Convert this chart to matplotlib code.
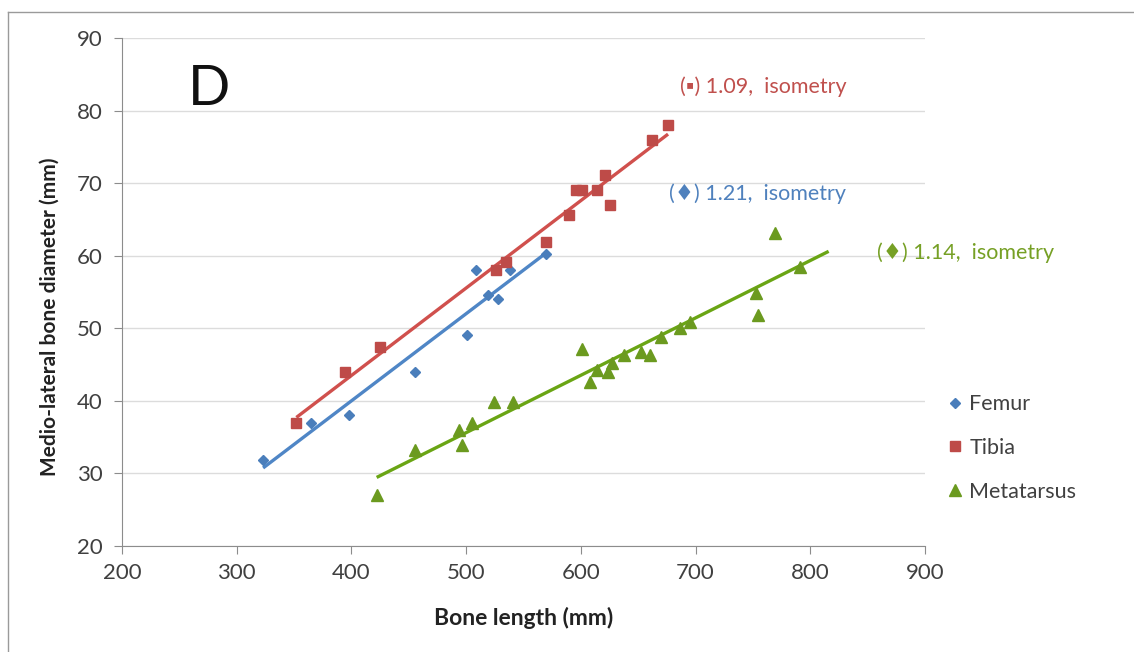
import matplotlib.pyplot as plt
import numpy as np
from matplotlib.lines import Line2D

plt.rcParams['font.family'] = ['Lato', 'DejaVu Sans']

# data
femur_len = [323, 365, 398, 455, 501, 509, 519, 528, 538, 570]
femur_dia = [31.9, 36.9, 38.0, 44.0, 49.1, 58.0, 54.6, 54.0, 58.0, 60.3]

tibia_len = [352, 394, 425, 526, 535, 570, 590, 596, 601, 614, 621, 625, 662, 676]
tibia_dia = [37.0, 44.0, 47.4, 58.0, 59.2, 61.9, 65.6, 69.1, 69.1, 69.1, 71.1, 67.0, 76.0, 78.0]

meta_len = [422, 455, 494, 496, 505, 524, 541, 601, 608, 614, 624, 627, 638, 652, 660,
            670, 686, 695, 753, 754, 769, 791]
meta_dia = [27.0, 33.2, 36.0, 33.9, 37.0, 39.9, 39.9, 47.2, 42.6, 44.3, 44.0, 45.2, 46.3,
            46.8, 46.3, 48.8, 50.0, 50.9, 54.8, 51.8, 63.1, 58.5]

labels = ['Femur', 'Tibia', 'Metatarsus']
notes = ['(\u2666) 1.21,  isometry', '(\u25aa) 1.09,  isometry', '(\u2666) 1.14,  isometry']
note_pos = [(677, 68.5), (686, 83.3), (858, 60.4)]
line_extend = [0, 0, 25]

marker_cols = ['#4a7ebb', '#be4b48', '#6b9a1f']
line_cols = ['#4f86c6', '#d0504d', '#6aa514']
note_cols = ['#4f81bd', '#c0504d', '#76a025']
markers = [('D', 5.5), ('s', 7), ('^', 8)]

fig = plt.figure(figsize=(11.34, 6.52), dpi=100)
ax = fig.add_axes([122 / 1134, 1 - 546 / 652, 803 / 1134, 508 / 652])

series = [(femur_len, femur_dia), (tibia_len, tibia_dia), (meta_len, meta_dia)]
for i, (xs, ys) in enumerate(series):
    xs = np.array(xs)
    ys = np.array(ys)
    k, b = np.polyfit(xs, ys, 1)
    xl = np.array([xs.min(), xs.max() + line_extend[i]])
    ax.plot(xl, k * xl + b, color=line_cols[i], lw=2.4, zorder=2, solid_capstyle='butt')
    m, ms = markers[i]
    ax.plot(xs, ys, ls='none', marker=m, markersize=ms, color=marker_cols[i],
            mec=marker_cols[i], label=labels[i], zorder=3)
    ax.text(note_pos[i][0], note_pos[i][1], notes[i], color=note_cols[i], fontsize=15.5,
            ha='left', va='center', clip_on=False)

ax.set_xlim(200, 900)
ax.set_ylim(20, 90)
ax.set_xticks(range(200, 901, 100))
ax.set_yticks(range(20, 91, 10))
ax.grid(axis='y', color='#dcdcdc', lw=1)
ax.set_axisbelow(True)
for s in ['top', 'right']:
    ax.spines[s].set_visible(False)
for s in ['left', 'bottom']:
    ax.spines[s].set_color('#8c8c8c')
ax.tick_params(colors='#8c8c8c', labelcolor='#404040', labelsize=16, length=6)
ax.tick_params(axis='y', pad=8)
ax.tick_params(axis='x', pad=6)

ax.set_xlabel('Bone length (mm)', fontsize=16.5, fontweight='bold', color='#222222',
              va='center')
ax.set_ylabel('Medio-lateral bone diameter (mm)', fontsize=15, fontweight='bold',
              color='#222222', va='center')
ax.xaxis.set_label_coords(0.5, (546 - 618) / 508)
ax.yaxis.set_label_coords((50 - 122) / 803, (546 - 317) / 508)

ax.text(0.082, 0.898, 'D', transform=ax.transAxes, fontsize=40, ha='left', va='center',
        color='#111111')

leg = fig.legend(loc='center left', bbox_to_anchor=(925 / 1134, 1 - 448 / 652),
                 frameon=False, fontsize=15.5, handletextpad=0.15, labelspacing=1.1,
                 handlelength=1.0)
for t in leg.get_texts():
    t.set_color('#404040')

# outer chart border (left and top visible)
fig.add_artist(Line2D([8 / 1134, 8 / 1134], [0, 1 - 12 / 652], color='#9a9a9a', lw=1))
fig.add_artist(Line2D([8 / 1134, 1], [1 - 12 / 652, 1 - 12 / 652], color='#9a9a9a', lw=1))

fig.savefig('out.png', dpi=100)
